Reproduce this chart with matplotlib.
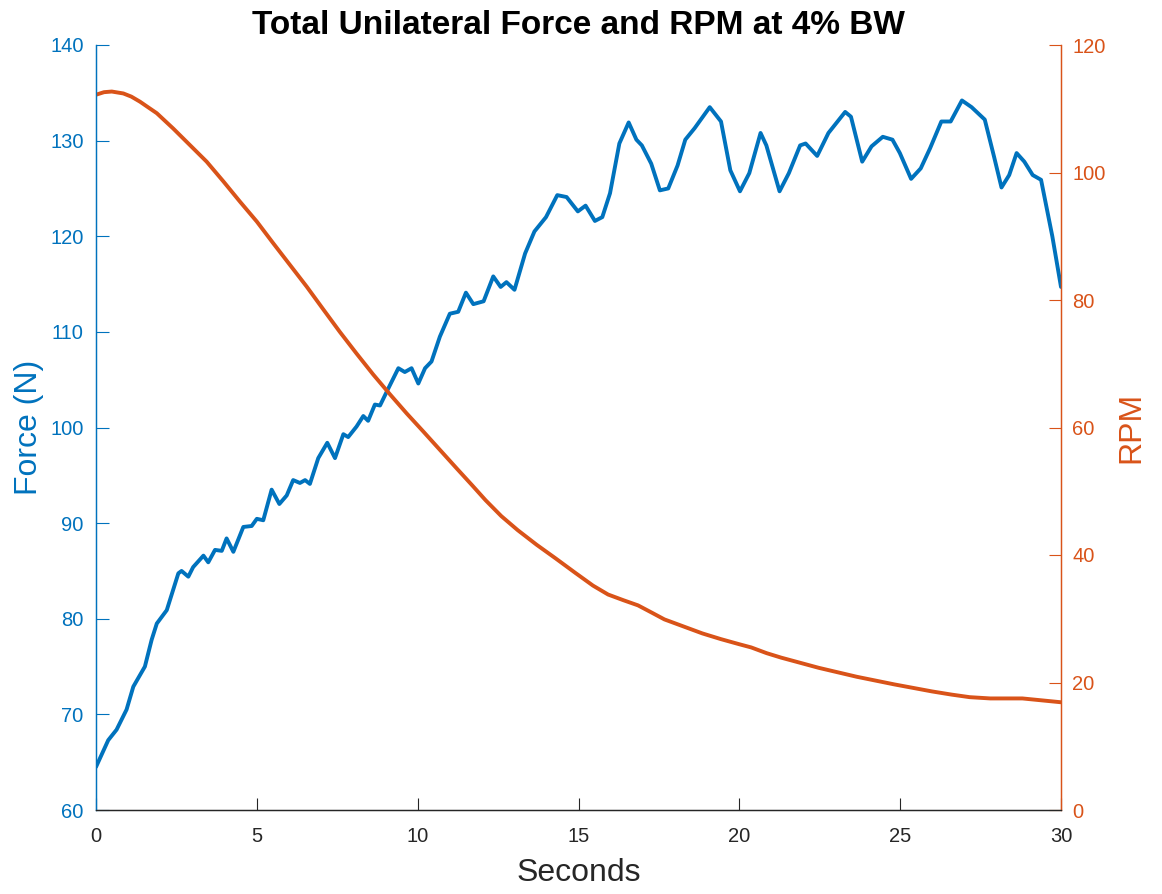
import matplotlib.pyplot as plt

# Force trace (N) sampled over the 30 s trial
force_t = [0.00, 0.38, 0.64, 0.95, 1.16, 1.52, 1.73, 1.89, 2.20, 2.56, 2.66, 2.87,
           3.02, 3.34, 3.49, 3.70, 3.91, 4.06, 4.27, 4.58, 4.84, 5.00, 5.20, 5.46,
           5.70, 5.93, 6.13, 6.34, 6.50, 6.65, 6.91, 7.19, 7.43, 7.69, 7.84, 8.10,
           8.31, 8.46, 8.67, 8.83, 9.09, 9.40, 9.60, 9.81, 10.02, 10.23, 10.43, 10.69,
           11.00, 11.26, 11.50, 11.73, 12.05, 12.35, 12.58, 12.76, 13.01, 13.34, 13.63,
           13.99, 14.34, 14.63, 14.98, 15.22, 15.51, 15.74, 15.98, 16.27, 16.56, 16.80,
           16.97, 17.26, 17.53, 17.79, 18.08, 18.32, 18.61, 19.08, 19.43, 19.72, 20.02,
           20.31, 20.66, 20.84, 21.25, 21.54, 21.89, 22.06, 22.42, 22.77, 23.29, 23.47,
           23.82, 24.11, 24.46, 24.76, 24.99, 25.34, 25.64, 25.93, 26.28, 26.57, 26.92,
           27.22, 27.63, 27.92, 28.15, 28.39, 28.62, 28.86, 29.12, 29.38, 29.73, 30.00]
force_n = [64.5, 67.3, 68.4, 70.5, 72.9, 75.0, 77.8, 79.5, 80.9, 84.75, 85.0, 84.4,
           85.4, 86.6, 85.9, 87.2, 87.1, 88.4, 87.0, 89.6, 89.7, 90.45, 90.3, 93.5,
           92.0, 92.9, 94.5, 94.2, 94.5, 94.1, 96.8, 98.4, 96.8, 99.3, 99.0, 100.1,
           101.2, 100.7, 102.4, 102.3, 104.1, 106.2, 105.8, 106.2, 104.6, 106.2, 106.9, 109.5,
           111.9, 112.1, 114.1, 112.9, 113.2, 115.8, 114.7, 115.2, 114.4, 118.2, 120.5,
           122.0, 124.3, 124.1, 122.6, 123.2, 121.6, 122.0, 124.5, 129.7, 131.9, 130.1,
           129.5, 127.6, 124.8, 125.0, 127.4, 130.1, 131.3, 133.5, 132.0, 126.9, 124.7,
           126.6, 130.8, 129.5, 124.7, 126.6, 129.5, 129.7, 128.4, 130.8, 133.0, 132.5,
           127.8, 129.4, 130.4, 130.1, 128.7, 126.0, 127.1, 129.2, 132.0, 132.0, 134.2,
           133.5, 132.2, 128.3, 125.1, 126.4, 128.7, 127.8, 126.4, 125.9, 120.0, 114.7]

# Flywheel cadence (RPM)
rpm_t = [0.00, 0.25, 0.49, 0.85, 1.10, 1.37, 1.60, 1.89, 2.40, 2.92, 3.44, 3.96, 4.48,
         5.00, 5.51, 6.03, 6.55, 7.07, 7.58, 8.10, 8.62, 9.14, 9.66, 10.17, 10.69,
         11.21, 11.70, 12.11, 12.60, 13.11, 13.70, 14.28, 14.90, 15.45, 15.92, 16.40,
         16.85, 17.30, 17.67, 18.26, 18.85, 19.43, 20.00, 20.37, 20.85, 21.30, 22.47,
         23.65, 24.82, 25.99, 26.60, 27.16, 27.80, 28.80, 29.40, 30.00]
rpm = [112.2, 112.6, 112.7, 112.4, 111.9, 111.1, 110.3, 109.3, 106.9, 104.3, 101.7,
       98.6, 95.4, 92.3, 88.9, 85.5, 82.1, 78.5, 75.0, 71.6, 68.3, 65.2, 62.2, 59.4,
       56.5, 53.6, 50.9, 48.6, 46.1, 43.9, 41.6, 39.5, 37.2, 35.2, 33.8, 32.9,
       32.1, 30.9, 29.9, 28.8, 27.7, 26.8, 26.0, 25.5, 24.6, 23.9, 22.3,
       20.9, 19.7, 18.6, 18.1, 17.7, 17.5, 17.5, 17.2, 16.9]

BLUE = '#0072BD'
ORANGE = '#D95319'
DARK = '#262626'

plt.rcParams['font.family'] = ['Liberation Sans', 'DejaVu Sans']

fig = plt.figure(figsize=(11.62, 8.94), dpi=100)
ax = fig.add_axes([96 / 1162, 84 / 894, 965 / 1162, 765 / 894])
ax2 = ax.twinx()

ax.plot(force_t, force_n, color=BLUE, lw=2.8, solid_joinstyle='round',
        solid_capstyle='round')
ax2.plot(rpm_t, rpm, color=ORANGE, lw=2.8, solid_joinstyle='round',
         solid_capstyle='round')

ax.set_xlim(0, 30)
ax.set_ylim(60, 140)
ax2.set_ylim(0, 120)
ax.set_xticks(range(0, 31, 5))
ax.set_yticks(range(60, 141, 10))
ax2.set_yticks(range(0, 121, 20))

for a in (ax, ax2):
    a.spines['top'].set_visible(False)
    a.spines['left'].set_color(BLUE)
    a.spines['right'].set_color(ORANGE)
    a.spines['bottom'].set_color(DARK)
    for s in a.spines.values():
        s.set_linewidth(0.9)

ax.tick_params(axis='x', direction='in', length=9, width=0.8, colors=DARK,
               labelsize=14.5, pad=12)
ax.tick_params(axis='y', direction='in', length=9, width=0.8, colors=BLUE,
               labelsize=14.5, pad=9)
ax2.tick_params(axis='y', direction='in', length=9, width=0.8, colors=ORANGE,
                labelsize=14.5, pad=8)

ax.set_xlabel('Seconds', fontsize=23, color=DARK, labelpad=9)
ax.set_ylabel('Force (N)', fontsize=23, color=BLUE, labelpad=4)
ax2.set_ylabel('RPM', fontsize=23, color=ORANGE, labelpad=8)
ax.set_title('Total Unilateral Force and RPM at 4% BW', fontsize=24,
             fontweight='bold', pad=8)

plt.savefig('out.png', dpi=100)
plt.close(fig)
